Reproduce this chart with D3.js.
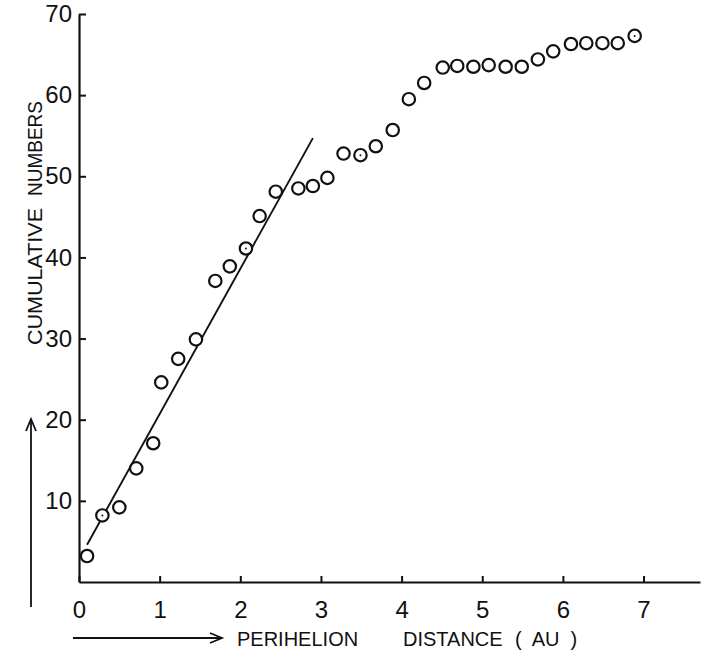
<!DOCTYPE html>
<html>
<head>
<meta charset="utf-8">
<script src="https://cdn.jsdelivr.net/npm/d3@7"></script>
<style>
  body { margin: 0; background: #fff; }
  svg { display: block; }
  text { font-family: "Liberation Sans", Arial, sans-serif; fill: #111; }
</style>
</head>
<body>
<svg id="chart"></svg>
<script>
// Perihelion distance (AU) and cumulative numbers
var distance = [0.10, 0.29, 0.50, 0.71, 0.92, 1.02, 1.23, 1.45, 1.69, 1.87,
                2.07, 2.24, 2.44, 2.72, 2.90, 3.08, 3.28, 3.49, 3.68, 3.89,
                4.09, 4.28, 4.51, 4.69, 4.89, 5.08, 5.29, 5.49, 5.69, 5.88,
                6.10, 6.29, 6.49, 6.68, 6.89];
var cumulative = [3.2, 8.2, 9.2, 14.0, 17.1, 24.6, 27.5, 29.9, 37.1, 38.9,
                  41.1, 45.1, 48.1, 48.5, 48.8, 49.8, 52.8, 52.6, 53.7, 55.7,
                  59.5, 61.5, 63.4, 63.6, 63.5, 63.7, 63.5, 63.5, 64.4, 65.4,
                  66.3, 66.4, 66.4, 66.4, 67.3];
// points drawn with a small dot in the middle
var dotted = [1, 10, 17, 34];

// straight fit line through the inner points
var fitX = [0.10, 2.90];
var fitY = [4.6, 54.7];

var xTicks = [0, 1, 2, 3, 4, 5, 6, 7];
var yTicks = [10, 20, 30, 40, 50, 60, 70];

var width = 702, height = 658;

var svg = d3.select("#chart")
    .attr("width", width)
    .attr("height", height);

var xScale = d3.scaleLinear().domain([0, 7.7]).range([79, 700]);
var yScale = d3.scaleLinear().domain([0, 70]).range([582, 14]);

// x axis
var xAxis = d3.axisBottom(xScale)
    .tickValues(xTicks)
    .tickFormat(d3.format("d"))
    .tickSizeInner(-6)
    .tickSizeOuter(0)
    .tickPadding(19);

var gx = svg.append("g")
    .attr("transform", "translate(0," + yScale(0) + ")")
    .call(xAxis);
gx.selectAll("text").style("font-size", "24px");

// y axis
var yAxis = d3.axisLeft(yScale)
    .tickValues(yTicks)
    .tickFormat(d3.format("d"))
    .tickSizeInner(-7)
    .tickSizeOuter(0)
    .tickPadding(7);

var gy = svg.append("g")
    .attr("transform", "translate(" + xScale(0) + ",0)")
    .call(yAxis);
gy.selectAll("text").style("font-size", "24px");

svg.selectAll(".domain").attr("stroke", "#111").attr("stroke-width", 2.2);
svg.selectAll(".tick line").attr("stroke", "#111").attr("stroke-width", 2);

// fit line
var line = d3.line()
    .x(function(d) { return xScale(d[0]); })
    .y(function(d) { return yScale(d[1]); });

svg.append("path")
    .datum(d3.zip(fitX, fitY))
    .attr("d", line)
    .attr("fill", "none")
    .attr("stroke", "#111")
    .attr("stroke-width", 1.9);

// data points
var points = d3.zip(distance, cumulative);

svg.selectAll(".pt")
    .data(points)
    .enter()
    .append("circle")
    .attr("class", "pt")
    .attr("cx", function(d) { return xScale(d[0]); })
    .attr("cy", function(d) { return yScale(d[1]); })
    .attr("r", 6.2)
    .attr("fill", "#fff")
    .attr("stroke", "#111")
    .attr("stroke-width", 2.2);

svg.selectAll(".dot")
    .data(dotted.map(function(i) { return points[i]; }))
    .enter()
    .append("circle")
    .attr("class", "dot")
    .attr("cx", function(d) { return xScale(d[0]); })
    .attr("cy", function(d) { return yScale(d[1]); })
    .attr("r", 1)
    .attr("fill", "#111");

// axis titles with arrows
svg.append("line")
    .attr("x1", 73).attr("y1", 638).attr("x2", 221).attr("y2", 638)
    .attr("stroke", "#111").attr("stroke-width", 1.8);
svg.append("path")
    .attr("d", "M210,633 L222,638 L210,643")
    .attr("fill", "none").attr("stroke", "#111").attr("stroke-width", 1.8);

var xTitle = svg.append("text")
    .attr("y", 646)
    .style("font-size", "20px");
xTitle.append("tspan").attr("x", 237).text("PERIHELION");
xTitle.append("tspan").attr("x", 403).text("DISTANCE");
xTitle.append("tspan").attr("x", 515).style("white-space", "pre").text("(  AU  )");

svg.append("line")
    .attr("x1", 31).attr("y1", 607).attr("x2", 31).attr("y2", 419)
    .attr("stroke", "#111").attr("stroke-width", 1.8);
svg.append("path")
    .attr("d", "M26,431 L31,419 L36,431")
    .attr("fill", "none").attr("stroke", "#111").attr("stroke-width", 1.8);

var yTitle = svg.append("text")
    .attr("transform", "translate(42,0) rotate(-90)")
    .style("font-size", "21px");
yTitle.append("tspan").attr("x", -345)
    .attr("textLength", 137).attr("lengthAdjust", "spacingAndGlyphs")
    .text("CUMULATIVE");
yTitle.append("tspan").attr("x", -196)
    .attr("textLength", 95).attr("lengthAdjust", "spacingAndGlyphs")
    .text("NUMBERS");
</script>
</body>
</html>
